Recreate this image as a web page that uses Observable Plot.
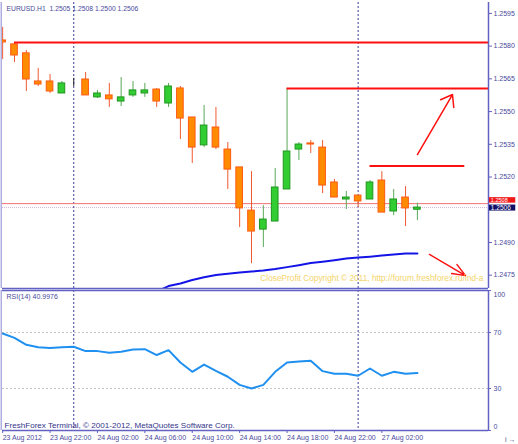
<!DOCTYPE html>
<html><head><meta charset="utf-8">
<script src="https://cdn.jsdelivr.net/npm/d3@7"></script>
<script src="https://cdn.jsdelivr.net/npm/@observablehq/plot@0.6"></script>
<style>
html,body{margin:0;padding:0;background:#fff;overflow:hidden;}
#wrap{position:relative;width:518px;height:444px;overflow:hidden;background:#fff;}
#wrap svg{position:absolute;left:0;overflow:visible;}
</style></head><body><div id="wrap"></div>
<script>
// ---- data ----
const chartTitle = "EURUSD.H1  1.2505 1.2508 1.2500 1.2506";
const rsiTitle = "RSI(14) 40.9976";
const footer = "FreshForex Terminal, \u00a9 2001-2012, MetaQuotes Software Corp.";
const watermark = "CloseProfit Copyright \u00a9 2011, http://forum.freshforex.ru/ind-a";

const opens  = [1.25826,1.25808,1.25767,1.25638,1.25638,1.25583,1.25633,1.25647,1.25565,1.25574,1.25546,1.25574,1.25583,1.25601,1.25537,1.25606,1.25473,1.25345,1.25427,1.25326,1.25244,1.25046,1.24959,1.24996,1.25143,1.25326,1.25354,1.25335,1.25175,1.25097,1.25115,1.25097,1.25184,1.25042,1.25106,1.25050];
const highs  = [1.25886,1.25812,1.25780,1.25698,1.25670,1.25638,1.25652,1.25679,1.25597,1.25629,1.25656,1.25638,1.25629,1.25606,1.25629,1.25615,1.25473,1.25528,1.25519,1.25358,1.25244,1.25225,1.25069,1.25239,1.25606,1.25358,1.25367,1.25367,1.25189,1.25134,1.25115,1.25184,1.25225,1.25143,1.25156,1.25080];
const lows   = [1.25739,1.25725,1.25592,1.25615,1.25583,1.25583,1.25615,1.25574,1.25560,1.25519,1.25523,1.25565,1.25565,1.25519,1.25519,1.25372,1.25262,1.25335,1.25326,1.25143,1.24968,1.24803,1.24877,1.24996,1.25143,1.25276,1.25308,1.25124,1.25106,1.25051,1.25060,1.25097,1.25037,1.25023,1.24973,1.25000];
const closes = [1.25817,1.25757,1.25647,1.25624,1.25592,1.25629,1.25633,1.25574,1.25583,1.25556,1.25565,1.25597,1.25597,1.25546,1.25615,1.25468,1.25335,1.25436,1.25335,1.25234,1.25056,1.24950,1.25005,1.25152,1.25317,1.25349,1.25349,1.25161,1.25106,1.25106,1.25088,1.25175,1.25037,1.25097,1.25056,1.25060];

const maStart = 13;
const maValues = [1.24675,1.24700,1.24712,1.24728,1.24741,1.24751,1.24757,1.24762,1.24767,1.24771,1.24778,1.24787,1.24796,1.24806,1.24812,1.24819,1.24826,1.24831,1.24835,1.24840,1.24845,1.24849,1.24850];

const rsiValues = [69.3,66.2,61.2,59.4,58.9,59.4,59.8,56.7,56.7,55.5,56.2,57.9,58.1,53.9,57.4,48.6,41.9,47.1,42.6,38.4,32.6,30.0,32.6,41.9,48.6,49.3,49.8,42.4,40.5,40.5,39.1,44.3,39.1,41.9,40.5,41.0];

const timeTickIndex  = [0,4,8,12,16,20,24,28,32];
const timeTickLabels = ["23 Aug 2012","23 Aug 22:00","24 Aug 02:00","24 Aug 06:00","24 Aug 10:00","24 Aug 14:00","24 Aug 18:00","24 Aug 22:00","27 Aug 02:00"];
const priceTicks = [1.2475,1.2490,1.2520,1.2535,1.2550,1.2565,1.2580,1.2595];
const rsiLevels = [30,70];
const rsiTicks = [0,30,70,100];
const separatorIndex = [6,30];

const levelPrice = [1.25817,1.25606,1.25250];
const levelFrom  = [1,24,31];
const levelTo    = [41,41,39];

const upArrow   = {x1:35.0, y1:1.25303, x2:37.96, y2:1.25578};
const downArrow = {x1:36.02, y1:1.24845, x2:39.06, y2:1.24748};

const markedLine = 1.25078, markedLabel = "1.2508";
const bidPrice = 1.25060, bidLabel = "1.2506";

// ---- build ----
const candles = opens.map((o,i)=>({i,o,h:highs[i],l:lows[i],c:closes[i],
  dir: closes[i]>o ? "up" : closes[i]<o ? "down" : "flat"}));
const ma = maValues.map((v,k)=>({i:maStart+k, v}));
const rsi = rsiValues.map((v,i)=>({i,v}));

const xDomain = [-0.0127, 41.0];
const font = "'Liberation Sans', Arial, sans-serif";
const ink = "#4a4a9c";
const frameC = "#6262c4";
const bodyFill = {up:"#32cd32", down:"#ff8c00", flat:"#222"};
const bodyStroke = {up:"#1e961e", down:"#ff5a10", flat:"#222"};
const wickC = {up:"#5aa85a", down:"#f05a30", flat:"#222"};
const dashed = {stroke:"#3a3a9a", strokeDasharray:"2,2", strokeWidth:1};
const pxPrice = 0.00004587; // one pixel of price at this scale (for label boxes)

const main = Plot.plot({
  width:518, height:290, marginLeft:2, marginRight:30, marginTop:2, marginBottom:2,
  x:{type:"linear", domain:xDomain, axis:null},
  y:{type:"linear", domain:[1.24689,1.26000], axis:null},
  style:{fontFamily:font, fontSize:"7px", background:"transparent", color:ink, overflow:"visible"},
  marks:[
    Plot.ruleX(separatorIndex, dashed),
    Plot.ruleY([bidPrice], {stroke:"#d8b4d8", strokeDasharray:"1,1"}),
    Plot.ruleY([markedLine], {stroke:"#f07070", strokeWidth:1}),
    Plot.line(ma, {x:"i", y:"v", stroke:"#1414e6", strokeWidth:2, clip:true}),
    Plot.ruleX(candles, {x:"i", y1:"l", y2:"h", stroke:d=>wickC[d.dir], strokeWidth:1, clip:true}),
    Plot.rect(candles, {x1:d=>d.i-0.28, x2:d=>d.i+0.28, y1:"o", y2:"c",
      fill:d=>bodyFill[d.dir], stroke:d=>bodyStroke[d.dir], strokeWidth:1, clip:true}),
    Plot.ruleY(levelPrice, {y:d=>d, x1:(d,k)=>levelFrom[k], x2:(d,k)=>levelTo[k], stroke:"#ff1010", strokeWidth:2}),
    Plot.arrow([upArrow], {x1:"x1", y1:"y1", x2:"x2", y2:"y2", stroke:"#ff1010", strokeWidth:1.5, headLength:13, headAngle:72}),
    Plot.arrow([downArrow], {x1:"x1", y1:"y1", x2:"x2", y2:"y2", stroke:"#ff1010", strokeWidth:1.5, headLength:23, headAngle:44}),
    Plot.text([watermark], {frameAnchor:"bottom-right", textAnchor:"end", lineAnchor:"middle", dx:-5, dy:-10, fill:"#f4d468", fontSize:8.3}),
    Plot.text([chartTitle], {frameAnchor:"top-left", textAnchor:"start", lineAnchor:"middle", dx:4, dy:6, fill:ink, fontSize:6.8}),
    Plot.axisY(priceTicks, {anchor:"right", tickSize:3, tickPadding:2, tickFormat:d=>d.toFixed(4), stroke:frameC, fill:ink, fontSize:7}),
    Plot.ruleX([xDomain[0]], {stroke:"#9a9ad8", strokeWidth:1.2, dx:-1.3}),
    Plot.ruleX([xDomain[1]], {stroke:frameC, strokeWidth:1.5}),
    Plot.ruleY([1.24689], {stroke:frameC, strokeWidth:1.5}),
    // price labels on the right scale: red (marked line) above, navy (bid) below
    Plot.rect([{p:markedLine}], {x1:41.08, x2:43.3, y1:d=>d.p+pxPrice*0.5, y2:d=>d.p+pxPrice*6, fill:"#f01818"}),
    Plot.text([{p:markedLine}], {x:41.2, y:d=>d.p+pxPrice*3.2, text:()=>markedLabel, textAnchor:"start", fill:"#fff", fontSize:5.5}),
    Plot.rect([{p:bidPrice}], {x1:41.08, x2:43.3, y1:d=>d.p-pxPrice*3.5, y2:d=>d.p+pxPrice*2.5, fill:"#101068"}),
    Plot.text([{p:bidPrice}], {x:41.2, y:d=>d.p-pxPrice*0.5, text:()=>bidLabel, textAnchor:"start", fill:"#fff", fontSize:6.5})
  ]
});
main.style.top = "0px";

const rsiPlot = Plot.plot({
  width:518, height:156, marginLeft:2, marginRight:30, marginTop:2, marginBottom:14,
  x:{type:"linear", domain:xDomain, axis:null},
  y:{type:"linear", domain:[0,100], axis:null},
  style:{fontFamily:font, fontSize:"7px", background:"transparent", color:ink, overflow:"visible"},
  marks:[
    Plot.ruleY(rsiLevels, {stroke:"#c4c4c4", strokeDasharray:"2,2"}),
    Plot.ruleX(separatorIndex, dashed),
    Plot.line(rsi, {x:"i", y:"v", stroke:"#2090f0", strokeWidth:2}),
    Plot.axisX(timeTickIndex, {anchor:"bottom", tickSize:3, tickPadding:2, textAnchor:"start",
      tickFormat:d=>timeTickLabels[timeTickIndex.indexOf(d)], stroke:frameC, fill:ink, fontSize:7}),
    Plot.ruleY(rsiTicks, {y:d=>d, x1:xDomain[1], x2:xDomain[1]+0.25, stroke:frameC}),
    Plot.text([30,70], {x:xDomain[1], y:d=>d, text:d=>String(d), textAnchor:"start", dx:5, fill:ink, fontSize:7}),
    Plot.text([100], {x:xDomain[1], y:d=>d, text:d=>String(d), textAnchor:"start", dx:5, dy:4, fill:ink, fontSize:7}),
    Plot.text([0], {x:xDomain[1], y:d=>d, text:d=>String(d), textAnchor:"start", dx:5, dy:-4, fill:ink, fontSize:7}),
    Plot.ruleX([xDomain[0]], {stroke:"#9a9ad8", strokeWidth:1.2, dx:-1.3}),
    Plot.ruleX([xDomain[1]], {stroke:frameC, strokeWidth:1.5}),
    Plot.ruleY([0], {stroke:frameC, strokeWidth:1.5}),
    Plot.ruleY([100], {stroke:frameC, strokeWidth:1.5}),
    Plot.text([rsiTitle], {frameAnchor:"top-left", textAnchor:"start", lineAnchor:"middle", dx:4, dy:6, fill:ink, fontSize:7}),
    Plot.text([footer], {frameAnchor:"bottom-left", textAnchor:"start", lineAnchor:"middle", dx:2, dy:-5, fill:"#34348a", fontSize:8.1})
  ]
});
rsiPlot.style.top = "288px";

const wrap = document.getElementById("wrap");
wrap.appendChild(main);
wrap.appendChild(rsiPlot);
</script>
</body></html>
